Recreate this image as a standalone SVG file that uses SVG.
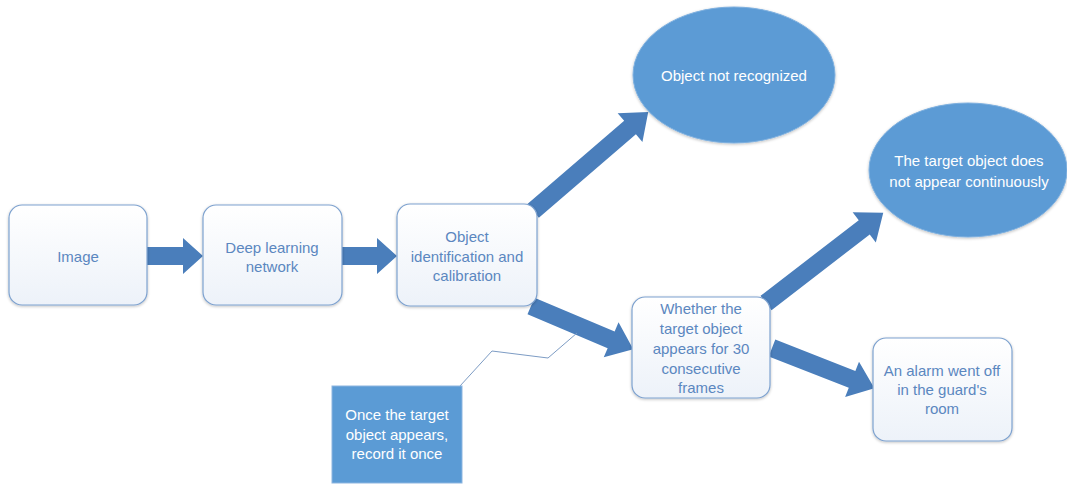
<svg xmlns="http://www.w3.org/2000/svg" width="1067" height="484" viewBox="0 0 1067 484">
<defs>
<linearGradient id="boxg" x1="0" y1="0" x2="0" y2="1">
<stop offset="0" stop-color="#ffffff"/>
<stop offset="1" stop-color="#edf2f9"/>
</linearGradient>
<filter id="sh" x="-10%" y="-10%" width="120%" height="120%">
<feGaussianBlur in="SourceAlpha" stdDeviation="1.5"/>
<feOffset dx="0" dy="1" result="b"/>
<feComponentTransfer><feFuncA type="linear" slope="0.25"/></feComponentTransfer>
<feMerge><feMergeNode/><feMergeNode in="SourceGraphic"/></feMerge>
</filter>
</defs>
<style>
.box{fill:url(#boxg);stroke:#7ea2cf;stroke-width:1.2}
.ell{fill:#5b9bd5;stroke:#7fb0df;stroke-width:1}
.note{fill:#5b9bd5;stroke:#8db5e0;stroke-width:1}
.arr{fill:#4a7ebb}
.t{font-family:"Liberation Sans",Arial,sans-serif;font-size:15px;fill:#5b87c0;text-anchor:middle;dominant-baseline:central}
.tw{font-family:"Liberation Sans",Arial,sans-serif;font-size:15px;fill:#ffffff;text-anchor:middle;dominant-baseline:central}
.call{fill:none;stroke:#7d9cc4;stroke-width:1}
</style>
<g id="connectors">
<path class="arr" transform="translate(147,256)" d="M0,-9 H36 V-18 L56,0 L36,18 V9 H0 Z"/>
<path class="arr" transform="translate(342,256)" d="M0,-9 H35 V-18 L55,0 L35,18 V9 H0 Z"/>
<path class="arr" transform="translate(533,211) rotate(-40.7)" d="M0,-9 H128 V-19 L152,0 L128,19 V9 H0 Z"/>
<path class="arr" transform="translate(531,306) rotate(22.9)" d="M0,-9 H87 V-19 L111,0 L87,19 V9 H0 Z"/>
<path class="arr" transform="translate(766,303) rotate(-37.6)" d="M0,-9 H124 V-19 L148,0 L124,19 V9 H0 Z"/>
<path class="arr" transform="translate(772,348) rotate(21.4)" d="M0,-9 H86 V-19 L110,0 L86,19 V9 H0 Z"/>
<polyline class="call" points="460,386 492,351 548,358 577,333"/>
</g>
<g id="n-image">
<rect class="box" x="9" y="205" width="138" height="100" rx="13" filter="url(#sh)"/>
<text class="t" x="78" y="256">Image</text>
</g>
<g id="n-deep">
<rect class="box" x="203" y="205" width="139" height="100" rx="13" filter="url(#sh)"/>
<text class="t" x="272" y="247">Deep learning</text>
<text class="t" x="272" y="266">network</text>
</g>
<g id="n-ident">
<rect class="box" x="397" y="204" width="140" height="102" rx="13" filter="url(#sh)"/>
<text class="t" x="467" y="236">Object</text>
<text class="t" x="467" y="256">identification and</text>
<text class="t" x="467" y="275">calibration</text>
</g>
<g id="n-notrec">
<ellipse class="ell" cx="734" cy="75" rx="101" ry="68" filter="url(#sh)"/>
<text class="tw" x="734" y="75">Object not recognized</text>
</g>
<g id="n-notcont">
<ellipse class="ell" cx="968" cy="170" rx="99" ry="67" filter="url(#sh)"/>
<text class="tw" x="969" y="160">The target object does</text>
<text class="tw" x="969" y="181">not appear continuously</text>
</g>
<g id="n-whether">
<rect class="box" x="632" y="297" width="138" height="101" rx="13" filter="url(#sh)"/>
<text class="t" x="701" y="308">Whether the</text>
<text class="t" x="701" y="328">target object</text>
<text class="t" x="701" y="348">appears for 30</text>
<text class="t" x="701" y="368">consecutive</text>
<text class="t" x="701" y="387">frames</text>
</g>
<g id="n-alarm">
<rect class="box" x="873" y="338" width="139" height="103" rx="13" filter="url(#sh)"/>
<text class="t" x="942" y="370">An alarm went off</text>
<text class="t" x="942" y="389">in the guard's</text>
<text class="t" x="942" y="408">room</text>
</g>
<g id="n-note">
<rect class="note" x="332" y="386" width="130" height="97"/>
<text class="tw" x="397" y="414">Once the target</text>
<text class="tw" x="397" y="434">object appears,</text>
<text class="tw" x="397" y="453">record it once</text>
</g>
</svg>
